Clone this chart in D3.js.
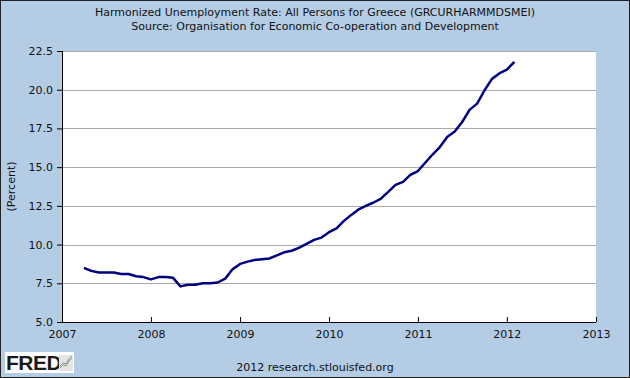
<!DOCTYPE html>
<html>
<head>
<meta charset="utf-8">
<script src="https://d3js.org/d3.v7.min.js"></script>
<style>
  body { margin: 0; }
  svg { display: block; font-family: "DejaVu Sans", Verdana, sans-serif; }
</style>
</head>
<body>
<div class="chart"></div>
<script>
const months = [
  "2007-04","2007-05","2007-06","2007-07","2007-08","2007-09","2007-10","2007-11","2007-12",
  "2008-01","2008-02","2008-03","2008-04","2008-05","2008-06","2008-07","2008-08","2008-09","2008-10","2008-11","2008-12",
  "2009-01","2009-02","2009-03","2009-04","2009-05","2009-06","2009-07","2009-08","2009-09","2009-10","2009-11","2009-12",
  "2010-01","2010-02","2010-03","2010-04","2010-05","2010-06","2010-07","2010-08","2010-09","2010-10","2010-11","2010-12",
  "2011-01","2011-02","2011-03","2011-04","2011-05","2011-06","2011-07","2011-08","2011-09","2011-10","2011-11","2011-12",
  "2012-01","2012-02"
];
const rates = [
  8.5, 8.3, 8.2, 8.2, 8.2, 8.1, 8.1, 7.95, 7.9,
  7.75, 7.9, 7.9, 7.85, 7.3, 7.4, 7.4, 7.5, 7.5, 7.55, 7.8, 8.4,
  8.75, 8.9, 9.0, 9.05, 9.1, 9.3, 9.5, 9.6, 9.8, 10.05, 10.3, 10.45,
  10.8, 11.05, 11.5, 11.9, 12.25, 12.5, 12.7, 12.95, 13.4, 13.85, 14.05, 14.5,
  14.75, 15.3, 15.8, 16.3, 16.95, 17.3, 17.9, 18.7, 19.1, 19.95, 20.7, 21.05,
  21.3, 21.8
];
const yTicks = [5.0, 7.5, 10.0, 12.5, 15.0, 17.5, 20.0, 22.5];
const xYears = ["2007","2008","2009","2010","2011","2012","2013"];

const titleLines = [
  "Harmonized Unemployment Rate: All Persons for Greece (GRCURHARMMDSMEI)",
  "Source: Organisation for Economic Co-operation and Development"
];

const W = 630, H = 378;
const margin = { top: 51, right: 34, bottom: 56, left: 62 };
const width = W - margin.left - margin.right;
const height = H - margin.top - margin.bottom;

const parseMonth = d3.timeParse("%Y-%m");
const parseYear = d3.timeParse("%Y");
const data = months.map((m, i) => ({ date: parseMonth(m), value: rates[i] }));

const root = d3.select(".chart")
  .append("svg")
  .attr("width", W)
  .attr("height", H);

// background + frame
root.append("rect")
  .attr("x", 0.5).attr("y", 0.5)
  .attr("width", W - 1).attr("height", H - 1)
  .attr("fill", "#b4cde5")
  .attr("stroke", "#222");

// titles
root.selectAll("text.title")
  .data(titleLines)
  .join("text")
  .attr("class", "title")
  .attr("x", 315)
  .attr("y", (d, i) => 16 + i * 13.5)
  .attr("text-anchor", "middle")
  .attr("font-size", 11)
  .attr("fill", "#111")
  .text(d => d);

const svg = root.append("g")
  .attr("transform", `translate(${margin.left}, ${margin.top})`);

svg.append("rect")
  .attr("width", width)
  .attr("height", height)
  .attr("fill", "#fff");

const x = d3.scaleTime()
  .domain([parseYear(xYears[0]), parseYear(xYears[xYears.length - 1])])
  .range([0, width]);

const y = d3.scaleLinear()
  .domain([yTicks[0], yTicks[yTicks.length - 1]])
  .range([height, 0]);

// gridlines
svg.append("g")
  .selectAll("line")
  .data(yTicks.slice(1))
  .join("line")
  .attr("x1", 0).attr("x2", width)
  .attr("y1", d => Math.round(y(d)) + 0.5)
  .attr("y2", d => Math.round(y(d)) + 0.5)
  .attr("stroke", "#aaa");

// Y axis
const yAxis = svg.append("g")
  .call(d3.axisLeft(y).tickValues(yTicks).tickFormat(d3.format(".1f")).tickSize(5).tickPadding(4));
yAxis.select(".domain").attr("stroke", "#000").attr("d", `M0.5,0V${height}`);
yAxis.selectAll("text").attr("font-size", 11).attr("fill", "#111").attr("font-family", "DejaVu Sans, sans-serif");

// X axis, ticks point inward
const xAxis = svg.append("g")
  .attr("transform", `translate(0, ${height})`)
  .call(d3.axisBottom(x).tickValues(xYears.map(parseYear)).tickFormat(d3.timeFormat("%Y")).tickSize(-5).tickPadding(8));
xAxis.select(".domain").attr("stroke", "#000").attr("d", `M0,0.5H${width}`);
xAxis.selectAll("text").attr("font-size", 11).attr("fill", "#111").attr("font-family", "DejaVu Sans, sans-serif");

// Y label
root.append("text")
  .attr("transform", `translate(15, ${margin.top + height / 2}) rotate(-90)`)
  .attr("text-anchor", "middle")
  .attr("font-size", 11)
  .attr("fill", "#111")
  .text("(Percent)");

// the series
svg.append("path")
  .datum(data)
  .attr("fill", "none")
  .attr("stroke", "#000080")
  .attr("stroke-width", 2.5)
  .attr("stroke-linejoin", "round")
  .attr("d", d3.line().x(d => x(d.date)).y(d => y(d.value)));

// footer
root.append("text")
  .attr("x", 315)
  .attr("y", 371)
  .attr("text-anchor", "middle")
  .attr("font-size", 11)
  .attr("fill", "#111")
  .text("2012 research.stlouisfed.org");

// FRED logo
const logo = root.append("g").attr("transform", "translate(5, 352)");
logo.append("rect").attr("width", 69).attr("height", 21).attr("fill", "#fff");
logo.append("text")
  .attr("x", 1).attr("y", 18)
  .attr("font-family", "Liberation Sans, Arial, sans-serif")
  .attr("font-weight", "bold")
  .attr("font-size", 21)
  .attr("letter-spacing", -0.5)
  .attr("fill", "#1a1a1a")
  .text("FRED");
logo.append("rect").attr("x", 54).attr("y", 3).attr("width", 14).attr("height", 16).attr("fill", "#e4e4e4");
logo.append("path").attr("d", "M55,16 L58,13 L61,14 L64,9 L67,6").attr("fill", "none").attr("stroke", "#7fae4f").attr("stroke-width", 1);
logo.append("path").attr("d", "M55,14 L58,11 L61,12 L64,7 L67,4").attr("fill", "none").attr("stroke", "#6b8fc9").attr("stroke-width", 1);
</script>
</body>
</html>
